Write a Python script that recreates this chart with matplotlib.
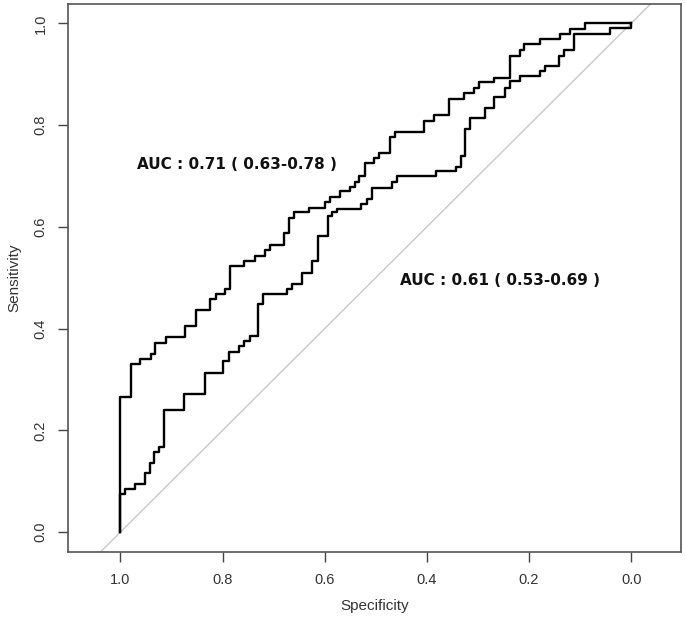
import numpy as np
import matplotlib
matplotlib.use("Agg")
import matplotlib.pyplot as plt

OUTPUT = "out.png"

# ROC curve 1 (AUC 0.71) - specificity / sensitivity step corners
spec_a = [1.0, 1.0, 0.980, 0.961, 0.940, 0.932, 0.911, 0.873, 0.852, 0.824,
          0.813, 0.795, 0.786, 0.758, 0.737, 0.717, 0.708, 0.679, 0.669, 0.660,
          0.630, 0.600, 0.590, 0.571, 0.551, 0.540, 0.532, 0.522, 0.503, 0.493,
          0.473, 0.462, 0.405, 0.386, 0.357, 0.328, 0.307, 0.297, 0.268, 0.238,
          0.218, 0.209, 0.179, 0.140, 0.120, 0.090, 0.0]
sens_a = [0.0, 0.266, 0.330, 0.341, 0.351, 0.372, 0.383, 0.405, 0.437, 0.458,
          0.468, 0.478, 0.523, 0.533, 0.543, 0.554, 0.564, 0.587, 0.617, 0.629,
          0.637, 0.649, 0.659, 0.670, 0.678, 0.689, 0.699, 0.725, 0.736, 0.746,
          0.777, 0.787, 0.809, 0.820, 0.851, 0.863, 0.873, 0.884, 0.893, 0.935,
          0.947, 0.959, 0.969, 0.979, 0.989, 1.0, 1.0]

# ROC curve 2 (AUC 0.61)
spec_b = [1.0, 1.0, 0.991, 0.971, 0.952, 0.942, 0.935, 0.925, 0.914, 0.875,
          0.835, 0.799, 0.788, 0.767, 0.758, 0.747, 0.730, 0.720, 0.673, 0.664,
          0.644, 0.624, 0.614, 0.594, 0.585, 0.576, 0.528, 0.517, 0.508, 0.468,
          0.459, 0.382, 0.342, 0.333, 0.325, 0.315, 0.286, 0.268, 0.246, 0.237,
          0.218, 0.179, 0.168, 0.142, 0.131, 0.111, 0.042, 0.0, 0.0]
sens_b = [0.0, 0.075, 0.085, 0.095, 0.116, 0.135, 0.157, 0.167, 0.240, 0.271,
          0.313, 0.336, 0.354, 0.365, 0.376, 0.385, 0.449, 0.469, 0.478, 0.488,
          0.509, 0.532, 0.583, 0.621, 0.629, 0.636, 0.644, 0.655, 0.677, 0.688,
          0.699, 0.710, 0.718, 0.739, 0.792, 0.814, 0.833, 0.856, 0.873, 0.886,
          0.897, 0.907, 0.917, 0.936, 0.948, 0.979, 0.991, 0.991, 1.0]

labels = ["AUC : 0.71 ( 0.63-0.78 )", "AUC : 0.61 ( 0.53-0.69 )"]
label_pos = [(0.967, 0.722), (0.452, 0.494)]

TICKS = [0.0, 0.2, 0.4, 0.6, 0.8, 1.0]
TICK_TXT = ["0.0", "0.2", "0.4", "0.6", "0.8", "1.0"]

plt.rcParams['font.family'] = ['Liberation Sans', 'DejaVu Sans']

fig = plt.figure(figsize=(6.85, 6.24), dpi=100)
ax = fig.add_axes([0.0997, 0.1154, 0.8940, 0.8782])

# chance line across the whole box
xs = np.array([1.2, -0.2])
ax.plot(xs, 1 - xs, color='#c8c8c8', lw=1.0, zorder=1)

ax.plot(spec_a, sens_a, drawstyle='steps-post', color='black', lw=1.7, zorder=3)
ax.plot(spec_b, sens_b, drawstyle='steps-post', color='black', lw=1.7, zorder=3)

for txt, (x, y) in zip(labels, label_pos):
    ax.text(x, y, txt, fontsize=11, fontweight='bold', ha='left', va='center',
            color='#111111', family=['DejaVu Sans'])

ax.set_xlim(1.102, -0.097)
ax.set_ylim(-0.039, 1.038)

ax.set_xticks(TICKS)
ax.set_xticklabels(TICK_TXT, fontsize=10.5, color='#333333')
ax.set_yticks(TICKS)
ax.set_yticklabels(TICK_TXT, fontsize=10.5, color='#333333', rotation=90, va='center')
ax.tick_params(direction='out', length=7, width=1, color='#444444', pad=8)

ax.set_xlabel("Specificity", fontsize=11, color='#333333', labelpad=9)
ax.set_ylabel("Sensitivity", fontsize=11, color='#333333', labelpad=9)

for sp in ax.spines.values():
    sp.set_color('#555555')
    sp.set_linewidth(1.2)

fig.savefig(OUTPUT, dpi=100)
plt.close()
